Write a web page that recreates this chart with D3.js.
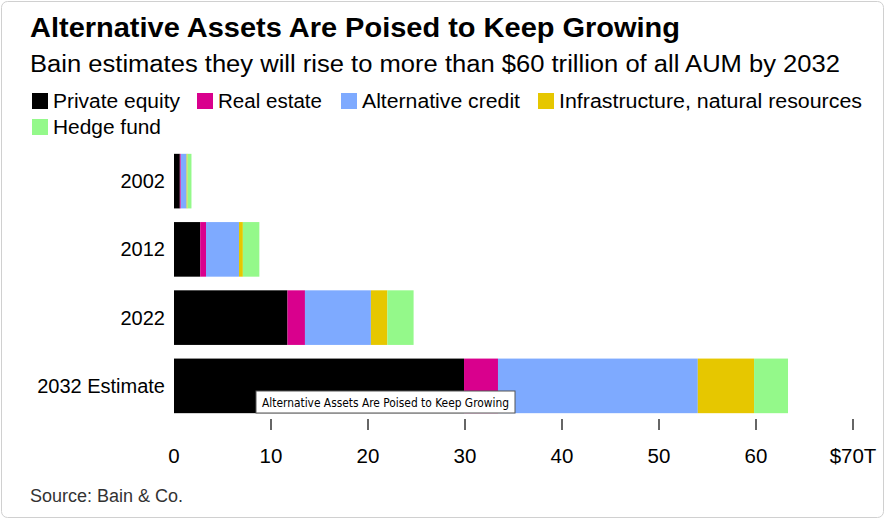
<!DOCTYPE html>
<meta charset="utf-8">
<body style="margin:0;background:#fff">
<script src="https://d3js.org/d3.v7.min.js"></script>
<script>
var width = 886, height = 520;

var years = ["2002", "2012", "2022", "2032 Estimate"];
var seriesNames = ["Private equity", "Real estate", "Alternative credit", "Infrastructure, natural resources", "Hedge fund"];
var colors = ["#000000", "#d9008d", "#7eaaff", "#e6c700", "#94f98a"];
// trillions of dollars, per segment
var privateEquity = [0.6, 2.7, 11.7, 29.9];
var realEstate = [0.1, 0.6, 1.8, 3.5];
var altCredit = [0.6, 3.4, 6.8, 20.6];
var infra = [0.1, 0.4, 1.7, 5.8];
var hedgeFund = [0.4, 1.7, 2.7, 3.5];
var ticks = [0, 10, 20, 30, 40, 50, 60, 70];

var data = years.map(function(y, i) {
  return {year: y, vals: [privateEquity[i], realEstate[i], altCredit[i], infra[i], hedgeFund[i]]};
});

var svg = d3.select("body").append("svg").attr("width", width).attr("height", height)
  .style("font-family", "Liberation Sans, Arial, sans-serif");

svg.append("rect").attr("x", 1.5).attr("y", 1.5).attr("width", width - 4).attr("height", height - 4)
  .attr("rx", 6).attr("fill", "#fff").attr("stroke", "#d0d0d0");

function fit(sel, len) { return sel.attr("textLength", len).attr("lengthAdjust", "spacingAndGlyphs"); }

fit(svg.append("text").attr("x", 30).attr("y", 37).attr("font-size", 27).attr("font-weight", "bold")
  .text("Alternative Assets Are Poised to Keep Growing"), 650);
fit(svg.append("text").attr("x", 30).attr("y", 72).attr("font-size", 23)
  .text("Bain estimates they will rise to more than $60 trillion of all AUM by 2032"), 810);

// legend
var legendPos = [[32, 101], [197, 101], [341, 101], [538, 101], [32, 127]];
var legendLen = [127, 104, 158, 303, 108];
seriesNames.forEach(function(n, i) {
  var g = svg.append("g").attr("transform", "translate(" + legendPos[i][0] + "," + legendPos[i][1] + ")");
  g.append("rect").attr("x", 0).attr("y", -8).attr("width", 16).attr("height", 16).attr("fill", colors[i]);
  fit(g.append("text").attr("x", 21).attr("y", 7).attr("font-size", 19.5).text(n), legendLen[i]);
});

var x = d3.scaleLinear().domain([0, 70]).range([174, 853]);
var y = d3.scaleBand().domain(years).range([147, 420]).paddingInner(0.2).paddingOuter(0.1);

data.forEach(function(d) {
  var acc = 0;
  d.vals.forEach(function(v, i) {
    svg.append("rect").attr("x", x(acc)).attr("y", y(d.year))
      .attr("width", x(acc + v) - x(acc)).attr("height", y.bandwidth()).attr("fill", colors[i]);
    acc += v;
  });
  svg.append("text").attr("x", 165).attr("y", y(d.year) + y.bandwidth() / 2 + 7)
    .attr("text-anchor", "end").attr("font-size", 20).text(d.year);
});

ticks.forEach(function(t) {
  if (t > 0) svg.append("line").attr("x1", x(t)).attr("x2", x(t)).attr("y1", 419).attr("y2", 430)
    .attr("stroke", "#333").attr("stroke-width", 1.5);
  svg.append("text").attr("x", x(t)).attr("y", 463).attr("text-anchor", "middle").attr("font-size", 20.5)
    .text(t === 70 ? "$70T" : t);
});

svg.append("text").attr("x", 30).attr("y", 502).attr("font-size", 18).attr("fill", "#333").text("Source: Bain & Co.");

// hover tooltip captured in the reference
var tip = svg.append("g").attr("transform", "translate(256,391)");
tip.append("rect").attr("width", 259).attr("height", 22).attr("fill", "#fff").attr("stroke", "#555");
fit(tip.append("text").attr("x", 6).attr("y", 16).attr("font-size", 12.5).attr("font-family", "DejaVu Sans Condensed, Liberation Sans Narrow, sans-serif")
  .text("Alternative Assets Are Poised to Keep Growing"), 247);
</script>
</body>
</html>
